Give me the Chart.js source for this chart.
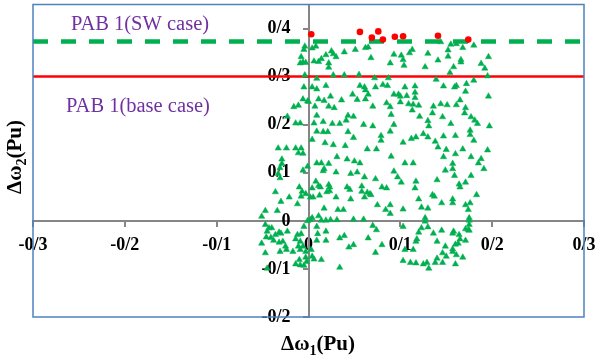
<!DOCTYPE html>
<html>
<head>
<meta charset="utf-8">
<script src="https://cdn.jsdelivr.net/npm/chart.js@4"></script>
<style>
  html, body { margin: 0; padding: 0; background: #fff; }
</style>
</head>
<body>
<canvas id="chart" width="595" height="358"></canvas>
<script>
// Tick values (labels are shown with "/" as decimal mark)
const xTicks = [-0.3, -0.2, -0.1, 0, 0.1, 0.2, 0.3];
const yTicks = [-0.2, -0.1, 0, 0.1, 0.2, 0.3, 0.4];

// Threshold lines
const swLevel = 0.373;   // PAB 1 (SW case)
const baseLevel = 0.3;   // PAB 1 (base case)

// Red points above the SW line
const redPoints = [
  [0.003, 0.388], [0.056, 0.393], [0.069, 0.381], [0.076, 0.394], [0.081, 0.377],
  [0.094, 0.383], [0.103, 0.384], [0.141, 0.385], [0.174, 0.377]
];

// Green triangles
const greenPoints = [
  // top left
  [-0.004,0.363],[-0.005,0.356],[0.004,0.359],[0.008,0.363],[-0.008,0.341],[-0.006,0.330],[-0.009,0.328],[-0.003,0.329],
  [0.006,0.332],[0.011,0.331],[0.014,0.337],[0.019,0.345],[0.025,0.353],[0.027,0.347],[0.030,0.341],[0.022,0.328],
  [0.022,0.319],[0.039,0.351],[0.051,0.356],[0.062,0.360],[0.065,0.361],[0.068,0.339],
  [-0.004,0.303],[0.009,0.296],[0.027,0.303],[0.039,0.303],[0.055,0.304],[0.072,0.297],
  [-0.005,0.278],[0.004,0.278],[0.009,0.274],[0.019,0.281],[0.056,0.281],[0.061,0.278],[0.062,0.272],[0.073,0.278],
  [0.048,0.263],[0.053,0.252],[0.062,0.253],[0.065,0.263],
  [-0.006,0.253],[-0.001,0.249],[0.000,0.248],[0.011,0.253],[0.017,0.250],[0.024,0.259],[0.036,0.251],
  [0.022,0.238],[0.028,0.235],[0.007,0.238],[-0.011,0.240],[-0.016,0.237],[-0.023,0.217],[0.009,0.219],
  [0.043,0.219],[0.049,0.217],[0.070,0.238],
  // top right
  [0.093,0.346],[0.101,0.344],[0.103,0.335],[0.104,0.323],[0.089,0.328],[0.110,0.349],[0.113,0.356],[0.130,0.348],
  [0.141,0.334],[0.127,0.320],[0.144,0.372],[0.152,0.355],[0.152,0.342],[0.155,0.367],[0.161,0.368],[0.168,0.360],
  [0.166,0.335],[0.166,0.330],[0.158,0.320],[0.154,0.308],[0.180,0.365],[0.188,0.327],[0.192,0.317],[0.196,0.341],
  [0.087,0.297],[0.139,0.294],[0.195,0.301],[0.081,0.283],[0.086,0.281],[0.116,0.280],[0.116,0.267],[0.116,0.256],
  [0.105,0.278],[0.093,0.263],[0.098,0.263],[0.100,0.259],[0.107,0.260],[0.147,0.280],[0.159,0.278],[0.161,0.281],
  [0.172,0.285],[0.171,0.269],[0.180,0.292],[0.196,0.259],[0.165,0.251],[0.085,0.245],[0.089,0.237],[0.100,0.247],
  [0.109,0.243],[0.114,0.242],[0.120,0.240],[0.113,0.230],[0.090,0.221],[0.121,0.217],[0.136,0.238],[0.144,0.243],
  [0.151,0.241],[0.161,0.241],[0.171,0.235],[0.135,0.224],[0.146,0.216],[0.170,0.224],[0.177,0.216],
  // middle left
  [0.041,0.209],[0.034,0.202],[0.026,0.202],[0.016,0.206],[0.006,0.203],[-0.014,0.203],[-0.009,0.203],[0.009,0.186],
  [0.016,0.185],[0.021,0.185],[0.043,0.185],[0.060,0.200],[0.070,0.197],[0.049,0.173],[0.040,0.156],[0.018,0.162],
  [0.027,0.158],[0.004,0.169],[-0.033,0.151],[-0.024,0.151],[-0.014,0.151],[-0.008,0.151],[-0.006,0.140],[-0.011,0.141],
  [0.064,0.149],[0.074,0.149],[0.031,0.133],[0.042,0.128],[0.050,0.124],[0.056,0.120],[-0.029,0.128],[-0.029,0.119],
  [-0.031,0.110],[0.009,0.120],[0.014,0.120],[0.022,0.119],[0.017,0.108],[-0.001,0.113],[-0.006,0.105],[0.016,0.104],
  [0.030,0.101],[0.046,0.098],[0.053,0.101],[0.061,0.091],[0.073,0.087],[-0.033,0.098],[-0.031,0.089],[0.008,0.082],
  [0.011,0.073],[0.022,0.075],[0.023,0.070],[0.013,0.070],[0.004,0.068],[-0.010,0.070],[-0.036,0.060],[-0.007,0.061],
  [-0.003,0.056],[0.020,0.060],[0.023,0.062],[0.042,0.070],[0.045,0.065],[0.058,0.072],[0.058,0.061],[0.064,0.059],
  [0.067,0.056],[0.002,0.049],[0.005,0.049],[0.012,0.053],[0.030,0.049],[-0.021,0.049],[-0.030,0.040],[-0.012,0.035],
  [-0.008,0.051],[0.046,0.045],[0.061,0.049],[0.068,0.054],[0.075,0.033],[-0.047,0.021],[-0.051,0.009],[-0.034,0.021],
  [0.017,0.026],[0.032,0.023],[0.038,0.023],[0.049,0.003],[0.060,0.003],[0.011,0.010],[0.004,0.006],
  // middle right
  [0.181,0.209],[0.184,0.202],[0.176,0.188],[0.176,0.179],[0.180,0.167],[0.197,0.197],[0.130,0.208],[0.131,0.197],
  [0.155,0.202],[0.093,0.200],[0.089,0.186],[0.079,0.177],[0.079,0.167],[0.103,0.163],[0.112,0.171],[0.117,0.174],
  [0.125,0.181],[0.130,0.174],[0.138,0.165],[0.141,0.153],[0.147,0.176],[0.160,0.177],[0.168,0.149],[0.150,0.148],
  [0.147,0.133],[0.160,0.139],[0.177,0.133],[0.188,0.129],[0.185,0.120],[0.195,0.147],[0.191,0.108],[0.090,0.134],
  [0.105,0.120],[0.114,0.120],[0.093,0.103],[0.097,0.091],[0.101,0.080],[0.149,0.105],[0.157,0.119],[0.157,0.108],
  [0.159,0.094],[0.140,0.085],[0.164,0.076],[0.165,0.070],[0.171,0.080],[0.177,0.094],[0.117,0.082],[0.116,0.068],
  [0.080,0.070],[0.085,0.068],[0.183,0.054],[0.120,0.045],[0.135,0.054],[0.137,0.051],[0.145,0.037],[0.157,0.045],
  [0.157,0.037],[0.171,0.033],[0.176,0.037],[0.174,0.023],[0.089,0.033],[0.084,0.023],[0.089,0.015],[0.103,0.024],
  [0.123,0.028],[0.130,0.026],[0.127,0.006],[0.175,0.006],
  // bottom left
  [-0.001,0.000],[0.002,0.002],[0.014,0.001],[0.019,0.001],[0.024,0.002],[0.031,0.002],[0.070,-0.010],[0.074,-0.019],
  [-0.047,-0.008],[-0.043,-0.015],[-0.040,-0.015],[-0.045,-0.022],[-0.032,-0.024],[-0.036,-0.029],[-0.030,-0.026],
  [-0.023,-0.022],[-0.051,-0.047],[-0.046,-0.034],[-0.041,-0.035],[-0.038,-0.041],[-0.032,-0.045],[-0.028,-0.043],
  [-0.025,-0.053],[-0.031,-0.064],[-0.024,-0.060],[-0.047,-0.067],[-0.017,-0.064],[-0.012,-0.029],[-0.008,-0.027],
  [-0.005,-0.012],[-0.006,-0.053],[-0.011,-0.053],[-0.009,-0.043],[-0.014,-0.038],[-0.009,-0.060],[-0.003,-0.064],
  [0.003,-0.060],[0.004,-0.074],[-0.003,-0.076],[-0.010,-0.081],[-0.014,-0.090],[-0.009,-0.092],[-0.005,-0.093],
  [-0.002,-0.085],[0.006,-0.080],[0.014,-0.081],[0.009,-0.041],[0.019,-0.041],[0.019,-0.022],[0.010,-0.027],
  [0.009,-0.012],[0.034,-0.036],[0.039,-0.031],[0.049,-0.050],[0.044,-0.055],[0.065,-0.036],[0.073,-0.066],
  [0.034,-0.097],[-0.045,-0.099],
  // bottom right
  [0.103,-0.012],[0.123,-0.015],[0.130,-0.013],[0.120,-0.024],[0.118,-0.038],[0.117,-0.043],[0.105,-0.060],[0.114,-0.060],
  [0.103,-0.083],[0.111,-0.087],[0.117,-0.088],[0.125,-0.090],[0.131,-0.099],[0.129,-0.087],[0.138,-0.087],[0.140,-0.078],
  [0.146,-0.087],[0.136,-0.026],[0.145,-0.020],[0.140,-0.043],[0.149,-0.053],[0.146,-0.067],[0.150,-0.074],[0.157,-0.059],
  [0.158,-0.022],[0.157,-0.026],[0.164,-0.029],[0.165,-0.038],[0.163,-0.047],[0.160,-0.049],[0.157,-0.064],[0.161,-0.071],
  [0.168,-0.076],[0.160,-0.090],[0.171,-0.041],[0.171,-0.017],[0.174,-0.019],[0.175,-0.020],[0.175,-0.008],[0.080,-0.050],
  [0.175,0.001],[0.127,-0.001]
];

const toXY = arr => arr.map(p => ({ x: p[0], y: p[1] }));
const fmtTick = v => {
  if (Math.abs(v) < 1e-9) return '0';
  return v.toFixed(1).replace('.', '/');
};

const tickFont = { family: '"Liberation Serif", "Times New Roman", serif', size: 18, weight: 'bold' };
const axisColor = '#868686';

// Frame, axis titles and the two case labels
const decorations = {
  id: 'decorations',
  afterDraw(chart) {
    const { ctx, chartArea } = chart;
    ctx.save();
    ctx.strokeStyle = '#4F81BD';
    ctx.lineWidth = 1.5;
    ctx.strokeRect(chartArea.left, chartArea.top, chartArea.right - chartArea.left, chartArea.bottom - chartArea.top);

    ctx.fillStyle = '#7030A0';
    ctx.font = '20.5px "Liberation Serif", serif';
    ctx.textAlign = 'center';
    ctx.textBaseline = 'alphabetic';
    ctx.fillText('PAB 1(SW case)', 140, 30);
    ctx.fillText('PAB 1(base case)', 138, 111.5);

    const drawTitle = (sub, cx, cy, rotate) => {
      ctx.save();
      ctx.translate(cx, cy);
      if (rotate) ctx.rotate(-Math.PI / 2);
      ctx.fillStyle = '#000';
      ctx.textAlign = 'left';
      const big = 'bold 21px "Liberation Serif", serif';
      const small = 'bold 14px "Liberation Serif", serif';
      ctx.font = big;
      const w1 = ctx.measureText('\u0394\u03c9').width;
      const w3 = ctx.measureText('(Pu)').width;
      ctx.font = small;
      const w2 = ctx.measureText(sub).width;
      let x = -(w1 + w2 + w3) / 2;
      ctx.font = big;
      ctx.fillText('\u0394\u03c9', x, 0);
      x += w1;
      ctx.font = small;
      ctx.fillText(sub, x, 5);
      x += w2;
      ctx.font = big;
      ctx.fillText('(Pu)', x, 0);
      ctx.restore();
    };
    drawTitle('1', 318, 350, false);
    drawTitle('2', 21, 157, true);
    ctx.restore();
  }
};

const noPad = scale => {
  scale.paddingTop = 0;
  scale.paddingBottom = 0;
  scale.paddingLeft = 0;
  scale.paddingRight = 0;
};

new Chart(document.getElementById('chart'), {
  type: 'scatter',
  data: {
    datasets: [
      {
        type: 'line',
        data: [{ x: -0.3, y: swLevel }, { x: 0.3, y: swLevel }],
        borderColor: '#00B050',
        borderWidth: 4.5,
        borderDash: [15, 13],
        borderCapStyle: 'butt',
        pointRadius: 0,
        fill: false,
        order: 3
      },
      {
        type: 'line',
        data: [{ x: -0.3, y: baseLevel }, { x: 0.3, y: baseLevel }],
        borderColor: '#FF0000',
        borderWidth: 2.5,
        pointRadius: 0,
        fill: false,
        order: 3
      },
      {
        data: toXY(greenPoints),
        pointStyle: 'triangle',
        pointRadius: 3.6,
        backgroundColor: '#00B050',
        borderColor: '#00B050',
        borderWidth: 0.5,
        order: 2
      },
      {
        data: toXY(redPoints),
        pointStyle: 'circle',
        pointRadius: 3.3,
        backgroundColor: '#FF0000',
        borderColor: '#FF0000',
        borderWidth: 0,
        order: 1
      }
    ]
  },
  options: {
    responsive: false,
    animation: false,
    devicePixelRatio: 1,
    layout: { padding: { left: 33, right: 11, top: 4, bottom: 41 } },
    plugins: { legend: { display: false }, tooltip: { enabled: false } },
    scales: {
      x: {
        type: 'linear',
        min: -0.3,
        max: 0.3,
        position: { y: 0 },
        afterBuildTicks: s => { s.ticks = xTicks.map(v => ({ value: v })); },
        afterFit: noPad,
        ticks: { font: tickFont, color: '#000', padding: 9, maxRotation: 0, callback: v => fmtTick(v) },
        grid: { drawOnChartArea: false, tickLength: 5, color: axisColor, lineWidth: 2 },
        border: { color: axisColor, width: 2 }
      },
      y: {
        type: 'linear',
        min: -0.2,
        max: 0.45,
        position: { x: 0 },
        afterBuildTicks: s => { s.ticks = yTicks.map(v => ({ value: v })); },
        afterFit: noPad,
        // labels sit right-aligned on the crossing axis, so pad them with an em space
        ticks: { font: tickFont, color: '#000', padding: 4, callback: v => fmtTick(v) + '\u2003' },
        grid: { drawOnChartArea: false, tickLength: 5, color: axisColor, lineWidth: 2 },
        border: { color: axisColor, width: 2 }
      }
    }
  },
  plugins: [decorations]
});
</script>
</body>
</html>
